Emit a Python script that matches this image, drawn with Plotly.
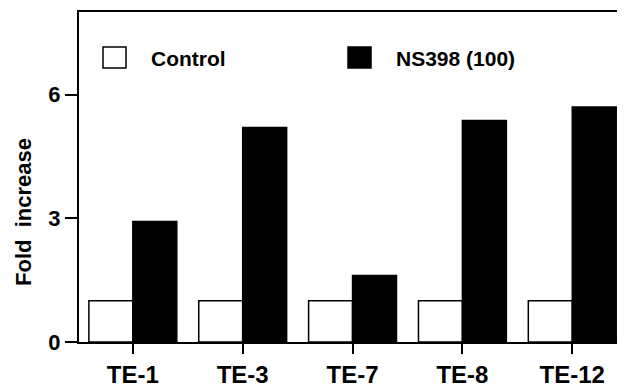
import plotly.graph_objects as go

categories = ["TE-1", "TE-3", "TE-7", "TE-8", "TE-12"]
control = [1.0, 1.0, 1.0, 1.0, 1.0]
ns398 = [2.92, 5.20, 1.61, 5.37, 5.70]
series_names = ["Control", "NS398 (100)"]
y_ticks = [0, 3, 6]
y_title = "Fold  increase"

FONT = "Liberation Sans, Arial, Helvetica, sans-serif"

fig = go.Figure()
fig.add_trace(go.Bar(x=categories, y=control, name=series_names[0],
                     marker=dict(color="white", line=dict(color="black", width=1.5))))
fig.add_trace(go.Bar(x=categories, y=ns398, name=series_names[1],
                     marker=dict(color="black", line=dict(color="black", width=1.5))))

# page body has an 8px default margin; compensate so the plot lands where intended
OFF = 8
W, H = 625 - OFF, 385 - OFF
ml, mr, mt, mb = 79 - OFF, 0, 12 - OFF, 43
pw, ph = W - ml - mr, H - mt - mb

def px(x):
    return (x - OFF - ml) / pw

def py(y):
    return (OFF + H - mb - y) / ph

shapes = []
annotations = []
legend_items = [(series_names[0], "white", 103, 149), (series_names[1], "black", 348, 394)]
for name, col, bx, tx in legend_items:
    shapes.append(dict(type="rect", xref="paper", yref="paper",
                       x0=px(bx), x1=px(bx + 23), y0=py(68), y1=py(47),
                       fillcolor=col, line=dict(color="black", width=1.5)))
    annotations.append(dict(text="<b>%s</b>" % name, xref="paper", yref="paper",
                            x=px(tx), y=py(58), xanchor="left", yanchor="middle",
                            showarrow=False, font=dict(family=FONT, size=21, color="black")))

# y-axis title placed like the reference (below the axis centre)
annotations.append(dict(text="<b>%s</b>" % y_title, xref="paper", yref="paper",
                        x=px(23), y=py(212), xanchor="center", yanchor="middle",
                        textangle=-90, showarrow=False,
                        font=dict(family=FONT, size=22, color="black")))

fig.update_layout(
    width=W, height=H,
    margin=dict(l=ml, r=mr, t=mt, b=mb, pad=0, autoexpand=False),
    paper_bgcolor="white", plot_bgcolor="white",
    barmode="group", bargap=0.2, bargroupgap=0,
    showlegend=False,
    shapes=shapes, annotations=annotations,
    font=dict(family=FONT, color="black"),
)
fig.update_xaxes(
    range=[-0.49, 4.48], showline=True, linecolor="black", linewidth=2, mirror=True,
    ticks="outside", ticklen=10, tickwidth=1.5, tickcolor="black",
    tickfont=dict(family=FONT, size=24, color="black"),
    tickprefix="<b>", ticksuffix="</b>", showgrid=False, zeroline=False,
    ticklabelstandoff=0, automargin=False,
)
fig.update_yaxes(
    range=[0, 8], tickvals=y_ticks, ticktext=["<b>%d</b>" % v for v in y_ticks],
    showline=True, linecolor="black", linewidth=2,
    ticks="outside", ticklen=12, tickwidth=1.5, tickcolor="black",
    tickfont=dict(family=FONT, size=22, color="black"),
    showgrid=False, zeroline=False, automargin=False,
)

fig.write_html("out.html")
